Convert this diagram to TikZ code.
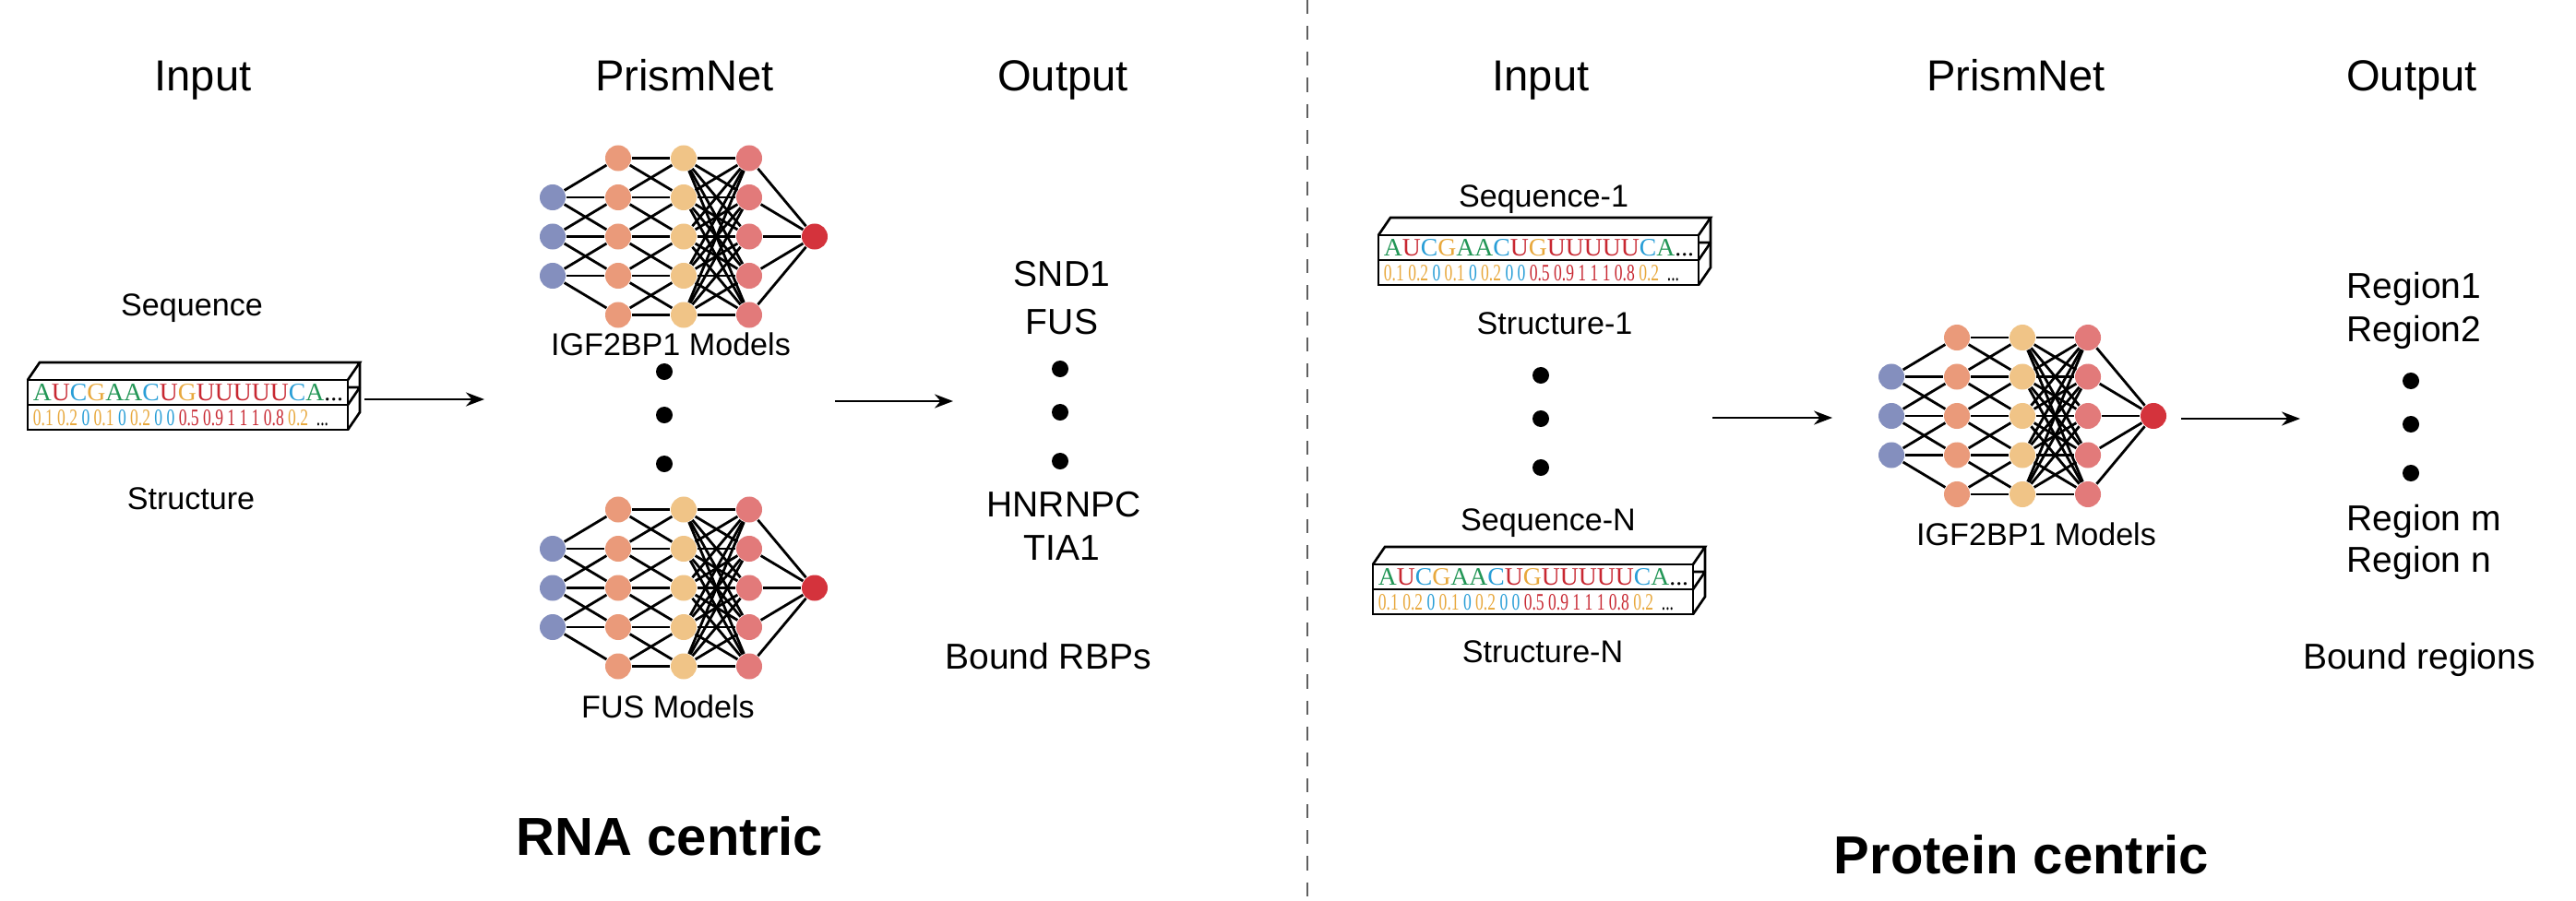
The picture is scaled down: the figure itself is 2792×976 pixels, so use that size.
\documentclass[tikz,border=0pt]{standalone}
\usepackage{fontspec}
\setmainfont{Liberation Sans}
\newfontfamily\seqfont{Liberation Serif}
\usetikzlibrary{arrows.meta}
\definecolor{sgreen}{RGB}{34,150,86}
\definecolor{sred}{RGB}{200,40,50}
\definecolor{sblue}{RGB}{40,158,215}
\definecolor{sorange}{RGB}{232,168,60}
\definecolor{nblue}{RGB}{132,143,190}
\definecolor{norange}{RGB}{234,154,122}
\definecolor{nyellow}{RGB}{240,196,135}
\definecolor{npink}{RGB}{226,122,122}
\definecolor{nred}{RGB}{212,51,60}
\newcommand\seqline{\textcolor{sgreen}{A}\textcolor{sred}{U}\textcolor{sblue}{C}\textcolor{sorange}{G}\textcolor{sgreen}{AA}\textcolor{sblue}{C}\textcolor{sred}{U}\textcolor{sorange}{G}\textcolor{sred}{UUUUU}\textcolor{sblue}{C}\textcolor{sgreen}{A}...}
\newcommand\strline{\textcolor{sorange}{0.1 0.2} \textcolor{sblue}{0} \textcolor{sorange}{0.1} \textcolor{sblue}{0} \textcolor{sorange}{0.2} \textcolor{sblue}{0 0} \textcolor{sred}{0.5 0.9 1 1 1 0.8} \textcolor{sorange}{0.2}\ \ ...}
\tikzset{
  neuron/.style={circle, minimum size=0.28cm, inner sep=0pt, draw=none},
  conn/.style={line width=0.8pt, black},
  dotn/.style={circle, fill=black, minimum size=0.18cm, inner sep=0pt},
  flow/.style={line width=0.8pt, -{Stealth[length=0.2cm,width=0.15cm]}},
  header/.style={font=\fontsize{13.4}{16}\selectfont, anchor=base, inner sep=0pt},
  small/.style={font=\fontsize{9.7}{12}\selectfont, anchor=base, inner sep=0pt},
  outl/.style={font=\fontsize{11.1}{13}\selectfont, anchor=base, inner sep=0pt},
  outlw/.style={font=\fontsize{11.1}{13}\selectfont, anchor=base west, inner sep=0pt},
  titlelab/.style={font=\bfseries\fontsize{16.5}{20}\selectfont, anchor=base, inner sep=0pt},
  boxline/.style={line width=0.75pt, line join=miter},
  divider/.style={line width=0.8pt, gray!75!black, dash pattern=on 4.3pt off 3.7pt},
  seqbox/.pic={
    \fill[white] (0,0) rectangle (347,54);
    \draw[boxline] (0,0) rectangle (347,54);
    \draw[boxline] (0,27) -- (347,27);
    \draw[boxline] (0,0) -- (13,-19) -- (360,-19) -- (347,0);
    \draw[boxline] (360,-19) -- (360,35) -- (347,54);
    \draw[boxline] (347,27) -- (360,8) (347,8) -- (360,8);
    \node[inner sep=0pt] (-seq) at (174,14) {\resizebox{3.36cm}{0.18cm}{\seqfont\seqline}};
    \node[inner sep=0pt] (-str) at (166,41) {\resizebox{3.2cm}{0.17cm}{\seqfont\strline}};
  }
}
\newcommand\drawnet[3]{%
  \foreach \j in {2,3,4} \node[neuron,fill=nblue] (#1-1-\j) at ({#2},{#3+42.5*(\j-3)}) {};
  \foreach \j in {1,...,5} {
    \node[neuron,fill=norange] (#1-2-\j) at ({#2+71},{#3+42.5*(\j-3)}) {};
    \node[neuron,fill=nyellow] (#1-3-\j) at ({#2+142},{#3+42.5*(\j-3)}) {};
    \node[neuron,fill=npink] (#1-4-\j) at ({#2+213},{#3+42.5*(\j-3)}) {};
  }
  \node[neuron,fill=nred] (#1-5) at ({#2+284},{#3}) {};
  \foreach \a/\b in {2/1,2/2,2/3,3/2,3/3,3/4,4/3,4/4,4/5} \draw[conn] (#1-1-\a) -- (#1-2-\b);
  \foreach \a/\b in {1/1,1/2,2/1,2/2,2/3,3/2,3/3,3/4,4/3,4/4,4/5,5/4,5/5} \draw[conn] (#1-2-\a) -- (#1-3-\b);
  \foreach \a in {1,...,5} \foreach \b in {1,...,5} \draw[conn] (#1-3-\a) -- (#1-4-\b);
  \foreach \a in {1,...,5} \draw[conn] (#1-4-\a) -- (#1-5);
}
\begin{document}
\begin{tikzpicture}[x=0.01cm, y=-0.01cm]
\useasboundingbox (0,0) rectangle (2792,976);
\fill[white] (0,0) rectangle (2792,976);

% divider
\coordinate (dtop) at (1417,0);
\coordinate (dbot) at (1417,976);
\draw[divider] (dtop) -- (dbot);

% ===== RNA centric =====
\node[header] (inL) at (220,99) {Input};
\node[header] (pnL) at (742,99) {PrismNet};
\node[header] (outL) at (1152,99) {Output};

\node[small] (seqL) at (208,342) {Sequence};
\node[small] (strL) at (207,552) {Structure};
\pic (boxL) at (30,412) {seqbox};

\drawnet{nA}{599}{256.5}
\drawnet{nB}{599}{637.5}
\node[small] (igfL) at (727,385) {IGF2BP1 Models};
\node[dotn] (ld1) at (720,403) {};
\node[dotn] (ld2) at (720,450) {};
\node[dotn] (ld3) at (720,503) {};
\node[small] (fusL) at (724,778) {FUS Models};

\coordinate (a1s) at (395,433);
\coordinate (a1e) at (525,433);
\draw[flow] (a1s) -- (a1e);
\coordinate (a2s) at (905,435);
\coordinate (a2e) at (1033,435);
\draw[flow] (a2s) -- (a2e);

\node[outl] (snd) at (1151,310) {SND1};
\node[outl] (fus) at (1151,362) {FUS};
\node[dotn] (od1) at (1149,400) {};
\node[dotn] (od2) at (1149,447) {};
\node[dotn] (od3) at (1149,500) {};
\node[outl] (hnr) at (1153,560) {HNRNPC};
\node[outl] (tia) at (1151,607) {TIA1};
\node[outl] (brbp) at (1136,725) {Bound RBPs};

\node[titlelab] (rnac) at (726,927) {RNA centric};

% ===== Protein centric =====
\node[header] (inR) at (1670,99) {Input};
\node[header] (pnR) at (2185,99) {PrismNet};
\node[header] (outR) at (2614,99) {Output};

\node[small] (seq1) at (1673,225) {Sequence-1};
\pic (box1) at (1494,255) {seqbox};
\node[small] (str1) at (1685,362) {Structure-1};
\node[dotn] (rd1) at (1670,407) {};
\node[dotn] (rd2) at (1670,454) {};
\node[dotn] (rd3) at (1670,507) {};
\node[small] (seqN) at (1678,575) {Sequence-N};
\pic (boxN) at (1488,612) {seqbox};
\node[small] (strN) at (1672,718) {Structure-N};

\coordinate (a3s) at (1856,453);
\coordinate (a3e) at (1986,453);
\draw[flow] (a3s) -- (a3e);

\drawnet{nC}{2050}{451}
\node[small] (igfR) at (2207,591) {IGF2BP1 Models};

\coordinate (a4s) at (2364,454);
\coordinate (a4e) at (2493,454);
\draw[flow] (a4s) -- (a4e);

\node[outlw] (r1) at (2543,323) {Region1};
\node[outlw] (r2) at (2543,370) {Region2};
\node[dotn] (pd1) at (2613,413) {};
\node[dotn] (pd2) at (2613,460) {};
\node[dotn] (pd3) at (2613,513) {};
\node[outlw] (rm) at (2543,575) {Region m};
\node[outlw] (rn) at (2543,620) {Region n};
\node[outl] (breg) at (2622,725) {Bound regions};

\node[titlelab] (protc) at (2191,947) {Protein centric};
\end{tikzpicture}
\end{document}
